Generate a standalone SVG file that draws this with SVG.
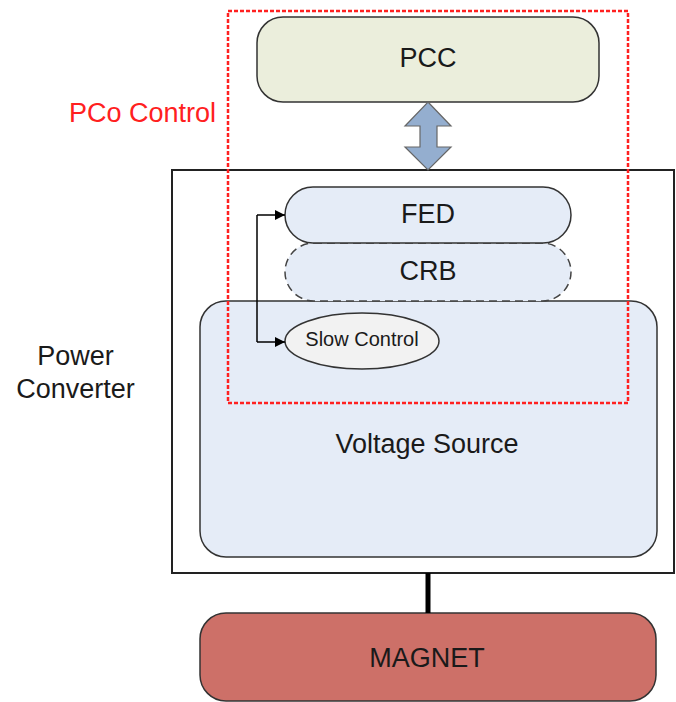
<svg xmlns="http://www.w3.org/2000/svg" width="676" height="702" viewBox="0 0 676 702">
<defs>
<style>
.t{font-family:"Liberation Sans",Arial,sans-serif;font-size:27px;fill:#1a1a1a;text-anchor:middle}
.box{stroke:#333;stroke-width:1.5}
.link{stroke:#000;stroke-width:1.5;fill:none}
</style>
<marker id="ah" viewBox="0 0 10 10" refX="10" refY="5" markerWidth="15" markerHeight="10" markerUnits="userSpaceOnUse" orient="auto">
<path d="M0,0 L10,5 L0,10 z" fill="#000"/>
</marker>
</defs>
<rect width="676" height="702" fill="#fff"/>
<g id="power-converter">
<rect x="172" y="170" width="502" height="403" fill="#fff" stroke="#222" stroke-width="2"/>
<text class="t" x="75.5" y="365">Power</text>
<text class="t" x="75.5" y="398">Converter</text>
</g>
<g id="voltage-source">
<rect class="box" x="200" y="301" width="457" height="256" rx="26" fill="#E5ECF7"/>
<text class="t" x="427" y="453">Voltage Source</text>
</g>
<g id="crb">
<rect x="285" y="243" width="286" height="58" rx="29" fill="#E5ECF7" stroke="#444" stroke-width="1.5" stroke-dasharray="8,5"/>
<text class="t" x="428" y="280">CRB</text>
</g>
<g id="fed">
<rect class="box" x="285" y="187" width="286" height="56" rx="28" fill="#E5ECF7"/>
<text class="t" x="428" y="223">FED</text>
</g>
<g id="slow-control">
<ellipse class="box" cx="362" cy="341" rx="77" ry="28" fill="#F2F2F2"/>
<text class="t" x="362" y="346" style="font-size:20px">Slow Control</text>
</g>
<g id="pcc">
<rect class="box" x="257" y="17" width="342" height="85" rx="26" fill="#EBEEDC"/>
<text class="t" x="428" y="67">PCC</text>
</g>
<g id="magnet">
<rect class="box" x="200" y="613" width="456" height="88" rx="26" fill="#CD7068"/>
<text class="t" x="427" y="667">MAGNET</text>
</g>
<g id="connectors">
<path d="M428,102 L451,126 L437,126 L437,147 L451,147 L428,170 L405,147 L420,147 L420,126 L405,126 Z" fill="#94AECF" stroke="#666" stroke-width="1.2"/>
<line class="link" x1="257" y1="215" x2="257" y2="342"/>
<line class="link" x1="257" y1="215" x2="285" y2="215" marker-end="url(#ah)"/>
<line class="link" x1="257" y1="342" x2="285" y2="342" marker-end="url(#ah)"/>
<line x1="428" y1="573" x2="428" y2="613" stroke="#000" stroke-width="5"/>
</g>
<g id="pco-control">
<rect x="228" y="11" width="400" height="392" fill="none" stroke="#FF2020" stroke-width="2.5" stroke-dasharray="4,2"/>
<text class="t" x="142.5" y="122" style="fill:#FF2020">PCo Control</text>
</g>
</svg>
